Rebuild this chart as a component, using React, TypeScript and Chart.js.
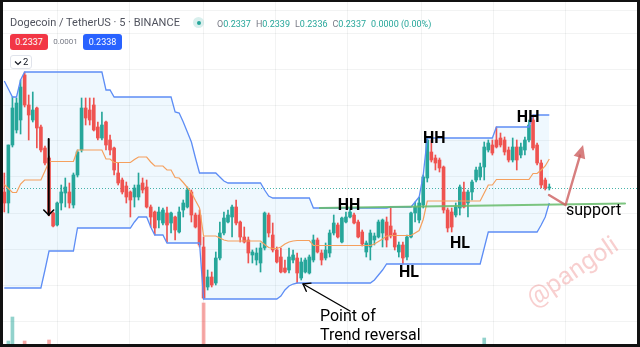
import React, { useEffect, useRef } from 'react';
import { Chart, registerables } from 'chart.js';

Chart.register(...registerables);

// ---- Candles (DOGE/USDT, 5m) ----
const candleOpen = [
  0.2335, 0.23295, 0.23585, 0.2366, 0.2371, 0.23935, 0.23785, 0.2371, 0.2377, 0.23675,
  0.2357, 0.2352, 0.23245, 0.23185, 0.23295, 0.23345, 0.2335, 0.23285, 0.23435, 0.2356,
  0.2377, 0.2376, 0.23785, 0.23675, 0.2362, 0.237, 0.2361, 0.2357, 0.23445, 0.2341,
  0.2338, 0.2335, 0.23325, 0.23325, 0.23395, 0.23375, 0.23275, 0.2325, 0.2321, 0.23195,
  0.23245, 0.23195, 0.23225, 0.2315, 0.2326, 0.23275, 0.2335, 0.23235, 0.23235, 0.23075,
  0.22875, 0.22925, 0.22895, 0.2302, 0.23145, 0.232, 0.23225, 0.23275, 0.232, 0.23125,
  0.2311, 0.23035, 0.2301, 0.22995, 0.2307, 0.23235, 0.23135, 0.2306, 0.23025, 0.2297,
  0.2296, 0.2301, 0.2302, 0.2292, 0.2295, 0.22945, 0.2301, 0.2311, 0.23045, 0.2302,
  0.23045, 0.23145, 0.23185, 0.231, 0.232, 0.23225, 0.23235, 0.232, 0.2315, 0.2305,
  0.23075, 0.2311, 0.23125, 0.23145, 0.232, 0.2318, 0.23145, 0.2305, 0.23085, 0.23025,
  0.23125, 0.23245, 0.2321, 0.23285, 0.2342, 0.2355, 0.2352, 0.2351, 0.23475, 0.2326,
  0.2325, 0.23235, 0.2327, 0.2335, 0.23295, 0.2335, 0.2341, 0.23425, 0.23475, 0.2356,
  0.23585, 0.2361, 0.2362, 0.2361, 0.2356, 0.2351, 0.23575, 0.23535, 0.2356, 0.2361,
  0.2371, 0.23585, 0.23495, 0.2341, 0.2337,
];
const candleHigh = [
  0.23445, 0.23585, 0.23825, 0.2382, 0.2391, 0.2395, 0.23835, 0.2385, 0.23775, 0.23685,
  0.2358, 0.2353, 0.2325, 0.233, 0.23385, 0.2342, 0.23395, 0.23445, 0.2356, 0.2382,
  0.2382, 0.2382, 0.2382, 0.237, 0.2375, 0.23705, 0.23635, 0.23575, 0.23495, 0.2342,
  0.234, 0.23355, 0.23385, 0.23445, 0.2342, 0.2341, 0.23285, 0.23255, 0.23275, 0.2327,
  0.23275, 0.2325, 0.2323, 0.23275, 0.2331, 0.23375, 0.2336, 0.23245, 0.2326, 0.23125,
  0.2296, 0.2295, 0.2305, 0.232, 0.2325, 0.2326, 0.23285, 0.2331, 0.23205, 0.23175,
  0.23125, 0.2306, 0.2307, 0.23095, 0.2325, 0.23245, 0.23195, 0.23075, 0.2307, 0.2301,
  0.2307, 0.2306, 0.23045, 0.2302, 0.2302, 0.23035, 0.23135, 0.2312, 0.2306, 0.23095,
  0.2316, 0.23235, 0.23195, 0.23225, 0.2325, 0.2327, 0.23245, 0.2321, 0.2316, 0.23105,
  0.2316, 0.23145, 0.2321, 0.23215, 0.23225, 0.23275, 0.2316, 0.231, 0.231, 0.23135,
  0.2325, 0.233, 0.23325, 0.23435, 0.2362, 0.2361, 0.23535, 0.2352, 0.2348, 0.2327,
  0.2327, 0.23295, 0.23385, 0.234, 0.2336, 0.2341, 0.23475, 0.23495, 0.236, 0.2361,
  0.2361, 0.23675, 0.23645, 0.23625, 0.23575, 0.2362, 0.2361, 0.23595, 0.23625, 0.2371,
  0.23735, 0.23595, 0.2351, 0.2342, 0.2339,
];
const candleLow = [
  0.2325, 0.23245, 0.23575, 0.23645, 0.2364, 0.23775, 0.2361, 0.237, 0.2357, 0.2355,
  0.23485, 0.2323, 0.23175, 0.2318, 0.2326, 0.23275, 0.2327, 0.2327, 0.23425, 0.2355,
  0.23685, 0.23685, 0.23655, 0.2361, 0.2361, 0.2356, 0.23535, 0.23435, 0.23385, 0.2334,
  0.23295, 0.23225, 0.23275, 0.2331, 0.23345, 0.2327, 0.23175, 0.23135, 0.2317, 0.23185,
  0.231, 0.23145, 0.2311, 0.23145, 0.23225, 0.2327, 0.232, 0.2317, 0.23075, 0.22815,
  0.2286, 0.22875, 0.22885, 0.2301, 0.23135, 0.23195, 0.23125, 0.23185, 0.231, 0.23095,
  0.22995, 0.22995, 0.22985, 0.2295, 0.2306, 0.23125, 0.2305, 0.22995, 0.22945, 0.22945,
  0.22945, 0.22995, 0.22895, 0.2291, 0.22945, 0.2294, 0.23, 0.23045, 0.22985, 0.2301,
  0.23025, 0.23135, 0.2312, 0.23095, 0.23195, 0.2322, 0.2319, 0.2312, 0.2308, 0.23025,
  0.2301, 0.23085, 0.2312, 0.23075, 0.23075, 0.2312, 0.2306, 0.23025, 0.2299, 0.2301,
  0.2312, 0.232, 0.23195, 0.2327, 0.234, 0.235, 0.2346, 0.2345, 0.23245, 0.2315,
  0.2315, 0.23225, 0.23235, 0.2327, 0.23225, 0.2331, 0.234, 0.2341, 0.2341, 0.2355,
  0.23535, 0.2357, 0.23575, 0.23535, 0.235, 0.235, 0.2346, 0.2352, 0.23535, 0.236,
  0.2356, 0.23485, 0.2337, 0.2336, 0.2336,
];
const candleClose = [
  0.23295, 0.23585, 0.2377, 0.23795, 0.23875, 0.23785, 0.23735, 0.2376, 0.2367, 0.2356,
  0.23495, 0.23245, 0.2318, 0.23295, 0.2335, 0.23375, 0.23295, 0.23435, 0.2355, 0.2377,
  0.2372, 0.2371, 0.2366, 0.2362, 0.23685, 0.23585, 0.2356, 0.2346, 0.23395, 0.2335,
  0.23325, 0.2331, 0.2337, 0.23385, 0.2336, 0.23275, 0.23225, 0.2317, 0.2325, 0.2326,
  0.23185, 0.23245, 0.2316, 0.2325, 0.23295, 0.2336, 0.23235, 0.23175, 0.23085, 0.2282,
  0.22925, 0.22885, 0.2302, 0.23145, 0.2322, 0.23235, 0.23275, 0.23195, 0.23125, 0.231,
  0.23045, 0.2305, 0.23045, 0.2307, 0.23245, 0.23145, 0.2306, 0.23, 0.2295, 0.2295,
  0.23025, 0.23035, 0.22945, 0.23, 0.2301, 0.23025, 0.2311, 0.2305, 0.2301, 0.2306,
  0.23145, 0.23195, 0.23125, 0.2322, 0.23225, 0.2325, 0.23195, 0.23125, 0.2309, 0.23095,
  0.23145, 0.2313, 0.232, 0.2321, 0.2311, 0.2313, 0.23075, 0.23085, 0.2302, 0.23125,
  0.23245, 0.23275, 0.23295, 0.23425, 0.2361, 0.2351, 0.23495, 0.2347, 0.2326, 0.2317,
  0.23175, 0.23275, 0.23375, 0.23275, 0.2335, 0.234, 0.2346, 0.23475, 0.23575, 0.23595,
  0.23545, 0.23575, 0.23585, 0.2355, 0.2351, 0.23575, 0.2351, 0.23575, 0.2361, 0.23685,
  0.2357, 0.23495, 0.23385, 0.2337, 0.2337,
];

// ---- Donchian channel ----
const channelUpper = [
  0.23905, 0.23865, 0.23825, 0.23825, 0.2391, 0.2395, 0.2395, 0.2395, 0.2395, 0.2395,
  0.2395, 0.2395, 0.2395, 0.2395, 0.2395, 0.2395, 0.2395, 0.2395, 0.2395, 0.2395,
  0.2395, 0.2395, 0.2395, 0.2395, 0.2395, 0.2386, 0.2386, 0.23825, 0.23825, 0.23825,
  0.23825, 0.23825, 0.23825, 0.23825, 0.23825, 0.23825, 0.23825, 0.23825, 0.23825, 0.23825,
  0.23825, 0.23825, 0.2375, 0.23745, 0.237, 0.2365, 0.236, 0.2352, 0.23445, 0.23445,
  0.23445, 0.23445, 0.23445, 0.23425, 0.23405, 0.23395, 0.23395, 0.23395, 0.23395, 0.23395,
  0.23395, 0.23395, 0.23395, 0.23395, 0.2336, 0.2333, 0.2332, 0.2332, 0.2332, 0.2332,
  0.2332, 0.2332, 0.2332, 0.2332, 0.2332, 0.2332, 0.2327, 0.2327, 0.2327, 0.2327,
  0.2327, 0.2327, 0.2327, 0.2327, 0.2327, 0.2327, 0.2327, 0.2327, 0.2327, 0.2327,
  0.2327, 0.2327, 0.2327, 0.2327, 0.2327, 0.23275, 0.23275, 0.23275, 0.23275, 0.23275,
  0.23275, 0.233, 0.23325, 0.23435, 0.2362, 0.2362, 0.2362, 0.2362, 0.2362, 0.2362,
  0.2362, 0.2362, 0.2362, 0.2362, 0.2362, 0.2362, 0.2362, 0.2362, 0.2362, 0.2362,
  0.2362, 0.23675, 0.23675, 0.23675, 0.23675, 0.23675, 0.23675, 0.23675, 0.23675, 0.23675,
  0.23735, 0.23735, 0.23735, 0.23735, 0.23735,
];
const channelBasis = [
  0.233875, 0.233675, 0.233475, 0.233475, 0.2339, 0.2341, 0.2341, 0.2341, 0.2341, 0.2341,
  0.23455, 0.235025, 0.235025, 0.235025, 0.235025, 0.235025, 0.235025, 0.235025, 0.2356, 0.2356,
  0.2356, 0.2356, 0.2356, 0.2356, 0.2356, 0.23515, 0.23515, 0.234975, 0.234975, 0.234975,
  0.234975, 0.234975, 0.235125, 0.23525, 0.23525, 0.23525, 0.235, 0.2348, 0.2348, 0.2348,
  0.2346, 0.2346, 0.234225, 0.2342, 0.233975, 0.233725, 0.233475, 0.233075, 0.2327, 0.2313,
  0.2313, 0.2313, 0.2313, 0.2312, 0.2311, 0.23105, 0.23105, 0.23105, 0.23105, 0.23105,
  0.23105, 0.23105, 0.23105, 0.23105, 0.230875, 0.230725, 0.230675, 0.230675, 0.23075, 0.2309,
  0.231, 0.23105, 0.231075, 0.231075, 0.231075, 0.231075, 0.230825, 0.230825, 0.230825, 0.230825,
  0.230825, 0.230825, 0.230825, 0.230825, 0.230825, 0.230825, 0.230825, 0.230825, 0.230825, 0.230825,
  0.230825, 0.2309, 0.231025, 0.23115, 0.2313, 0.231325, 0.231325, 0.231325, 0.231325, 0.231325,
  0.231325, 0.23145, 0.231575, 0.232125, 0.23305, 0.23305, 0.23305, 0.23305, 0.23305, 0.23305,
  0.23305, 0.23305, 0.23305, 0.23305, 0.23305, 0.23305, 0.23305, 0.23305, 0.23345, 0.23385,
  0.23385, 0.234125, 0.234125, 0.234125, 0.234125, 0.234125, 0.234125, 0.234125, 0.234125, 0.234125,
  0.234425, 0.234425, 0.2346, 0.2348, 0.23515,
];
const channelLower = [
  0.2287, 0.2287, 0.2287, 0.2287, 0.2287, 0.2287, 0.2287, 0.2287, 0.2287, 0.2287,
  0.2296, 0.23055, 0.23055, 0.23055, 0.23055, 0.23055, 0.23055, 0.23055, 0.2317, 0.2317,
  0.2317, 0.2317, 0.2317, 0.2317, 0.2317, 0.2317, 0.2317, 0.2317, 0.2317, 0.2317,
  0.2317, 0.2317, 0.232, 0.23225, 0.23225, 0.23225, 0.23175, 0.23135, 0.23135, 0.23135,
  0.23095, 0.23095, 0.23095, 0.23095, 0.23095, 0.23095, 0.23095, 0.23095, 0.23095, 0.22815,
  0.22815, 0.22815, 0.22815, 0.22815, 0.22815, 0.22815, 0.22815, 0.22815, 0.22815, 0.22815,
  0.22815, 0.22815, 0.22815, 0.22815, 0.22815, 0.22815, 0.22815, 0.22815, 0.2283, 0.2286,
  0.2288, 0.2289, 0.22895, 0.22895, 0.22895, 0.22895, 0.22895, 0.22895, 0.22895, 0.22895,
  0.22895, 0.22895, 0.22895, 0.22895, 0.22895, 0.22895, 0.22895, 0.22895, 0.22895, 0.22895,
  0.22895, 0.2291, 0.22935, 0.2296, 0.2299, 0.2299, 0.2299, 0.2299, 0.2299, 0.2299,
  0.2299, 0.2299, 0.2299, 0.2299, 0.2299, 0.2299, 0.2299, 0.2299, 0.2299, 0.2299,
  0.2299, 0.2299, 0.2299, 0.2299, 0.2299, 0.2299, 0.2299, 0.2299, 0.2307, 0.2315,
  0.2315, 0.2315, 0.2315, 0.2315, 0.2315, 0.2315, 0.2315, 0.2315, 0.2315, 0.2315,
  0.2315, 0.2315, 0.23185, 0.23225, 0.23295,
];

// ---- Volume (only the bars tall enough to show) ----
const volumeIndex = [1, 2, 5, 11, 49, 118];
const volumeValue = [26, 50, 26, 27, 64, 29];

const lastPrice = 0.2337;

// ---- Grid ticks ----
const xGridTicks = [13.2, 30.9, 48.86, 66.8, 84.5, 102.5, 120.2, 138.1];
const yGridTicks = [0.2426, 0.24145, 0.23965, 0.23785, 0.23605, 0.23425, 0.23245, 0.23065, 0.22885, 0.22705];

// ---- Hand drawn annotations (bar index, price) ----
const waveLabels = ['HH', 'HH', 'HH', 'HL', 'HL'];
const waveLabelIdx = [84.75, 105.7, 128.8, 99.5, 112.05];
const waveLabelPrice = [0.2326, 0.23595, 0.23702, 0.22925, 0.2307];
const noteTexts = ['support', 'Point of', 'Trend reversal'];
const noteIdx = [138.1, 77.62, 77.62];
const notePrice = [0.23235, 0.22705, 0.2261];
const supportLineIdx = [77.62, 152.6];
const supportLinePrice = [0.2327, 0.232925];
const downArrowIdx = [10.92, 10.92];
const downArrowPrice = [0.23615, 0.23235];
const reversalArrowIdx = [85.0, 73.45];
const reversalArrowPrice = [0.22755, 0.2289];
const bounceArrowIdx = [133.93, 138.0, 142.3];
const bounceArrowPrice = [0.23335, 0.23285, 0.23585];

const X_MIN = -1.057;
const X_MAX = 156.3;
const Y_MIN = 0.22575;
const Y_MAX = 0.2431;

const UP = '#26a69a';
const DOWN = '#ef5350';
const GRID = 'rgba(42,46,57,0.06)';

const annotationPlugin = {
  id: 'annotations',
  beforeDatasetsDraw(chart: any) {
    const { ctx, chartArea, scales } = chart;
    const y = Math.round(scales.y.getPixelForValue(lastPrice)) + 0.5;
    ctx.save();
    ctx.strokeStyle = 'rgba(38,166,154,0.85)';
    ctx.lineWidth = 1;
    ctx.setLineDash([1, 2]);
    ctx.beginPath();
    ctx.moveTo(chartArea.left, y);
    ctx.lineTo(chartArea.right, y);
    ctx.stroke();
    ctx.restore();
  },
  afterDatasetsDraw(chart: any) {
    const { ctx, scales } = chart;
    const px = (v: number) => scales.x.getPixelForValue(v);
    const py = (v: number) => scales.y.getPixelForValue(v);
    ctx.save();
    ctx.setLineDash([]);
    ctx.lineCap = 'round';
    ctx.lineJoin = 'round';

    // support line
    ctx.strokeStyle = 'rgba(102,187,106,0.85)';
    ctx.lineWidth = 2.2;
    ctx.beginPath();
    ctx.moveTo(px(supportLineIdx[0]), py(supportLinePrice[0]));
    ctx.lineTo(px(supportLineIdx[1]), py(supportLinePrice[1]));
    ctx.stroke();

    const openHead = (x1: number, y1: number, x2: number, y2: number, len: number, ang: number) => {
      const a = Math.atan2(y2 - y1, x2 - x1);
      ctx.beginPath();
      ctx.moveTo(x2 - len * Math.cos(a - ang), y2 - len * Math.sin(a - ang));
      ctx.lineTo(x2, y2);
      ctx.lineTo(x2 - len * Math.cos(a + ang), y2 - len * Math.sin(a + ang));
      ctx.stroke();
    };

    // black down arrow
    ctx.strokeStyle = '#000';
    ctx.lineWidth = 2;
    const dx1 = px(downArrowIdx[0]), dy1 = py(downArrowPrice[0]);
    const dx2 = px(downArrowIdx[1]), dy2 = py(downArrowPrice[1]);
    ctx.beginPath();
    ctx.moveTo(dx1, dy1);
    ctx.lineTo(dx2, dy2);
    ctx.stroke();
    ctx.lineWidth = 1.6;
    openHead(dx1, dy1, dx2, dy2, 7, Math.PI / 4);

    // trend reversal arrow
    ctx.lineWidth = 1.4;
    const rx1 = px(reversalArrowIdx[0]), ry1 = py(reversalArrowPrice[0]);
    const rx2 = px(reversalArrowIdx[1]), ry2 = py(reversalArrowPrice[1]);
    ctx.beginPath();
    ctx.moveTo(rx1, ry1);
    ctx.lineTo(rx2, ry2);
    ctx.stroke();
    openHead(rx1, ry1, rx2, ry2, 8, Math.PI / 5);

    // red bounce arrow
    ctx.strokeStyle = 'rgba(205,95,95,0.8)';
    ctx.fillStyle = 'rgba(205,95,95,0.8)';
    ctx.lineWidth = 2.4;
    const bx = bounceArrowIdx.map(px);
    const by = bounceArrowPrice.map(py);
    const ang = Math.atan2(by[2] - by[1], bx[2] - bx[1]);
    const headLen = 13;
    const sx = bx[2] - (headLen - 2) * Math.cos(ang);
    const sy = by[2] - (headLen - 2) * Math.sin(ang);
    ctx.beginPath();
    ctx.moveTo(bx[0], by[0]);
    ctx.lineTo(bx[1], by[1]);
    ctx.lineTo(sx, sy);
    ctx.stroke();
    ctx.beginPath();
    const bxh = bx[2] - headLen * Math.cos(ang);
    const byh = by[2] - headLen * Math.sin(ang);
    ctx.moveTo(bx[2], by[2]);
    ctx.lineTo(bxh + 6 * Math.cos(ang + Math.PI / 2), byh + 6 * Math.sin(ang + Math.PI / 2));
    ctx.lineTo(bxh - 6 * Math.cos(ang + Math.PI / 2), byh - 6 * Math.sin(ang + Math.PI / 2));
    ctx.closePath();
    ctx.fill();

    // labels
    ctx.fillStyle = '#000';
    ctx.textBaseline = 'alphabetic';
    ctx.textAlign = 'center';
    ctx.font = 'bold 16px Roboto, Arial, sans-serif';
    waveLabels.forEach((t, k) => ctx.fillText(t, px(waveLabelIdx[k]), py(waveLabelPrice[k])));
    ctx.textAlign = 'left';
    ctx.font = '16px Roboto, Arial, sans-serif';
    noteTexts.forEach((t, k) => ctx.fillText(t, px(noteIdx[k]), py(notePrice[k])));
    ctx.restore();
  },
};

export default function App() {
  const ref = useRef<HTMLCanvasElement>(null);

  useEffect(() => {
    if (!ref.current) return;
    const upColor = (i: number) => (candleClose[i] >= candleOpen[i] ? UP : DOWN);
    const chart = new Chart(ref.current, {
      type: 'line',
      data: {
        datasets: [
          {
            type: 'line',
            label: 'Upper',
            data: channelUpper.map((v, i) => ({ x: i, y: v })),
            borderColor: '#5d8df5',
            borderWidth: 1.3,
            pointRadius: 0,
            tension: 0,
            fill: '+2',
            backgroundColor: 'rgba(33,150,243,0.07)',
            order: 0,
          },
          {
            type: 'line',
            label: 'Basis',
            data: channelBasis.map((v, i) => ({ x: i, y: v })),
            borderColor: '#f5a05e',
            borderWidth: 1.2,
            pointRadius: 0,
            tension: 0,
            fill: false,
            order: 0,
          },
          {
            type: 'line',
            label: 'Lower',
            data: channelLower.map((v, i) => ({ x: i, y: v })),
            borderColor: '#5d8df5',
            borderWidth: 1.3,
            pointRadius: 0,
            tension: 0,
            fill: false,
            order: 0,
          },
          {
            type: 'bar',
            label: 'Body',
            data: candleOpen.map((o, i) => ({ x: i, y: [o, candleClose[i]] })),
            backgroundColor: (c: any) => upColor(c.dataIndex),
            barThickness: 3,
            grouped: false,
            borderWidth: 0,
            minBarLength: 1,
            order: 1,
          } as any,
          {
            type: 'bar',
            label: 'Wick',
            data: candleLow.map((l, i) => ({ x: i, y: [l, candleHigh[i]] })),
            backgroundColor: (c: any) => upColor(c.dataIndex),
            barThickness: 1,
            grouped: false,
            borderWidth: 0,
            order: 2,
          } as any,
          {
            type: 'bar',
            label: 'Volume',
            yAxisID: 'yv',
            data: volumeIndex.map((ix, k) => ({ x: ix, y: volumeValue[k] })),
            backgroundColor: (c: any) =>
              candleClose[volumeIndex[c.dataIndex]] >= candleOpen[volumeIndex[c.dataIndex]]
                ? 'rgba(38,166,154,0.5)'
                : 'rgba(239,83,80,0.5)',
            barThickness: 3,
            grouped: false,
            borderWidth: 0,
            order: 3,
          } as any,
        ],
      },
      options: {
        animation: false,
        responsive: false,
        devicePixelRatio: 1,
        events: [],
        layout: { padding: 0 },
        plugins: {
          legend: { display: false },
          tooltip: { enabled: false },
          filler: { drawTime: 'beforeDatasetsDraw', propagate: false },
        } as any,
        scales: {
          x: {
            type: 'linear',
            min: X_MIN,
            max: X_MAX,
            offset: false,
            grid: { color: GRID, drawTicks: false, offset: false, lineWidth: 1 },
            border: { display: false },
            ticks: { display: false },
            afterBuildTicks: (s: any) => {
              s.ticks = xGridTicks.map((v) => ({ value: v }));
            },
          },
          y: {
            type: 'linear',
            min: Y_MIN,
            max: Y_MAX,
            position: 'right',
            grid: { color: GRID, drawTicks: false, lineWidth: 1 },
            border: { display: false },
            ticks: { display: false },
            afterBuildTicks: (s: any) => {
              s.ticks = yGridTicks.map((v) => ({ value: v }));
            },
          },
          yv: {
            type: 'linear',
            min: 20,
            max: 367,
            display: false,
          },
        },
      } as any,
      plugins: [annotationPlugin],
    });
    return () => chart.destroy();
  }, []);

  const font = 'Roboto, Arial, sans-serif';
  const groupStyle: React.CSSProperties = { marginRight: 5 };
  const lab: React.CSSProperties = { color: '#787b86' };
  const val: React.CSSProperties = { color: '#26a69a' };

  return (
    <div
      style={{
        position: 'fixed',
        left: 0,
        top: 0,
        width: 640,
        height: 347,
        background: '#fff',
        overflow: 'hidden',
        fontFamily: font,
      }}
    >
      <canvas ref={ref} width={640} height={347} style={{ position: 'absolute', left: 0, top: 0, width: 640, height: 347 }} />

      {/* legend header */}
      <div style={{ position: 'absolute', left: 10, top: 16.5, fontSize: 11, lineHeight: '12px', color: '#50535e', whiteSpace: 'nowrap' }}>
        Dogecoin / TetherUS · 5 · BINANCE
      </div>
      <div style={{ position: 'absolute', left: 193.3, top: 17.3, width: 11, height: 11, borderRadius: '50%', background: 'rgba(38,166,154,0.18)' }} />
      <div style={{ position: 'absolute', left: 196.5, top: 20.5, width: 4.6, height: 4.6, borderRadius: '50%', background: '#26a69a' }} />
      <div style={{ position: 'absolute', left: 217, top: 17.6, fontSize: 9, lineHeight: '12px', whiteSpace: 'nowrap', display: 'flex' }}>
        <span style={groupStyle}><span style={lab}>O</span><span style={val}>0.2337</span></span>
        <span style={groupStyle}><span style={lab}>H</span><span style={val}>0.2339</span></span>
        <span style={groupStyle}><span style={lab}>L</span><span style={val}>0.2336</span></span>
        <span style={groupStyle}><span style={lab}>C</span><span style={val}>0.2337</span></span>
        <span style={val}>0.0000 (0.00%)</span>
      </div>

      {/* bid / ask boxes */}
      <div style={{ position: 'absolute', left: 10, top: 34, width: 38, height: 16, borderRadius: 3, background: '#f23645', color: '#fff', fontSize: 9, lineHeight: '16px', textAlign: 'center' }}>
        0.2337
      </div>
      <div style={{ position: 'absolute', left: 50, top: 34, width: 31, height: 16, color: '#787b86', fontSize: 8, lineHeight: '16px', textAlign: 'center' }}>
        0.0001
      </div>
      <div style={{ position: 'absolute', left: 83, top: 34, width: 39, height: 16, borderRadius: 3, background: '#2962ff', color: '#fff', fontSize: 9, lineHeight: '16px', textAlign: 'center' }}>
        0.2338
      </div>

      {/* collapse button */}
      <div style={{ position: 'absolute', left: 10, top: 55, width: 22, height: 14, boxSizing: 'border-box', border: '1px solid #e0e3eb', borderRadius: 3, background: '#fff' }}>
        <svg width="8" height="6" style={{ position: 'absolute', left: 3, top: 4 }}>
          <polyline points="1,1.5 4,4.5 7,1.5" fill="none" stroke="#131722" strokeWidth="1.2" />
        </svg>
        <span style={{ position: 'absolute', left: 12, top: 0, fontSize: 9.5, lineHeight: '12px', color: '#131722' }}>2</span>
      </div>

      {/* watermark */}
      <div
        style={{
          position: 'absolute',
          left: 572,
          top: 271,
          transform: 'translate(-50%, -50%) rotate(-34deg)',
          fontSize: 25,
          color: 'rgba(236,130,130,0.38)',
          whiteSpace: 'nowrap',
          fontFamily: font,
        }}
      >
        @pangoli
      </div>

      {/* frame */}
      <div
        style={{
          position: 'absolute',
          left: 0,
          top: 0,
          width: 640,
          height: 347,
          boxSizing: 'border-box',
          borderStyle: 'solid',
          borderColor: '#111',
          borderWidth: '2px 3px 3px 3px',
          pointerEvents: 'none',
        }}
      />
    </div>
  );
}
